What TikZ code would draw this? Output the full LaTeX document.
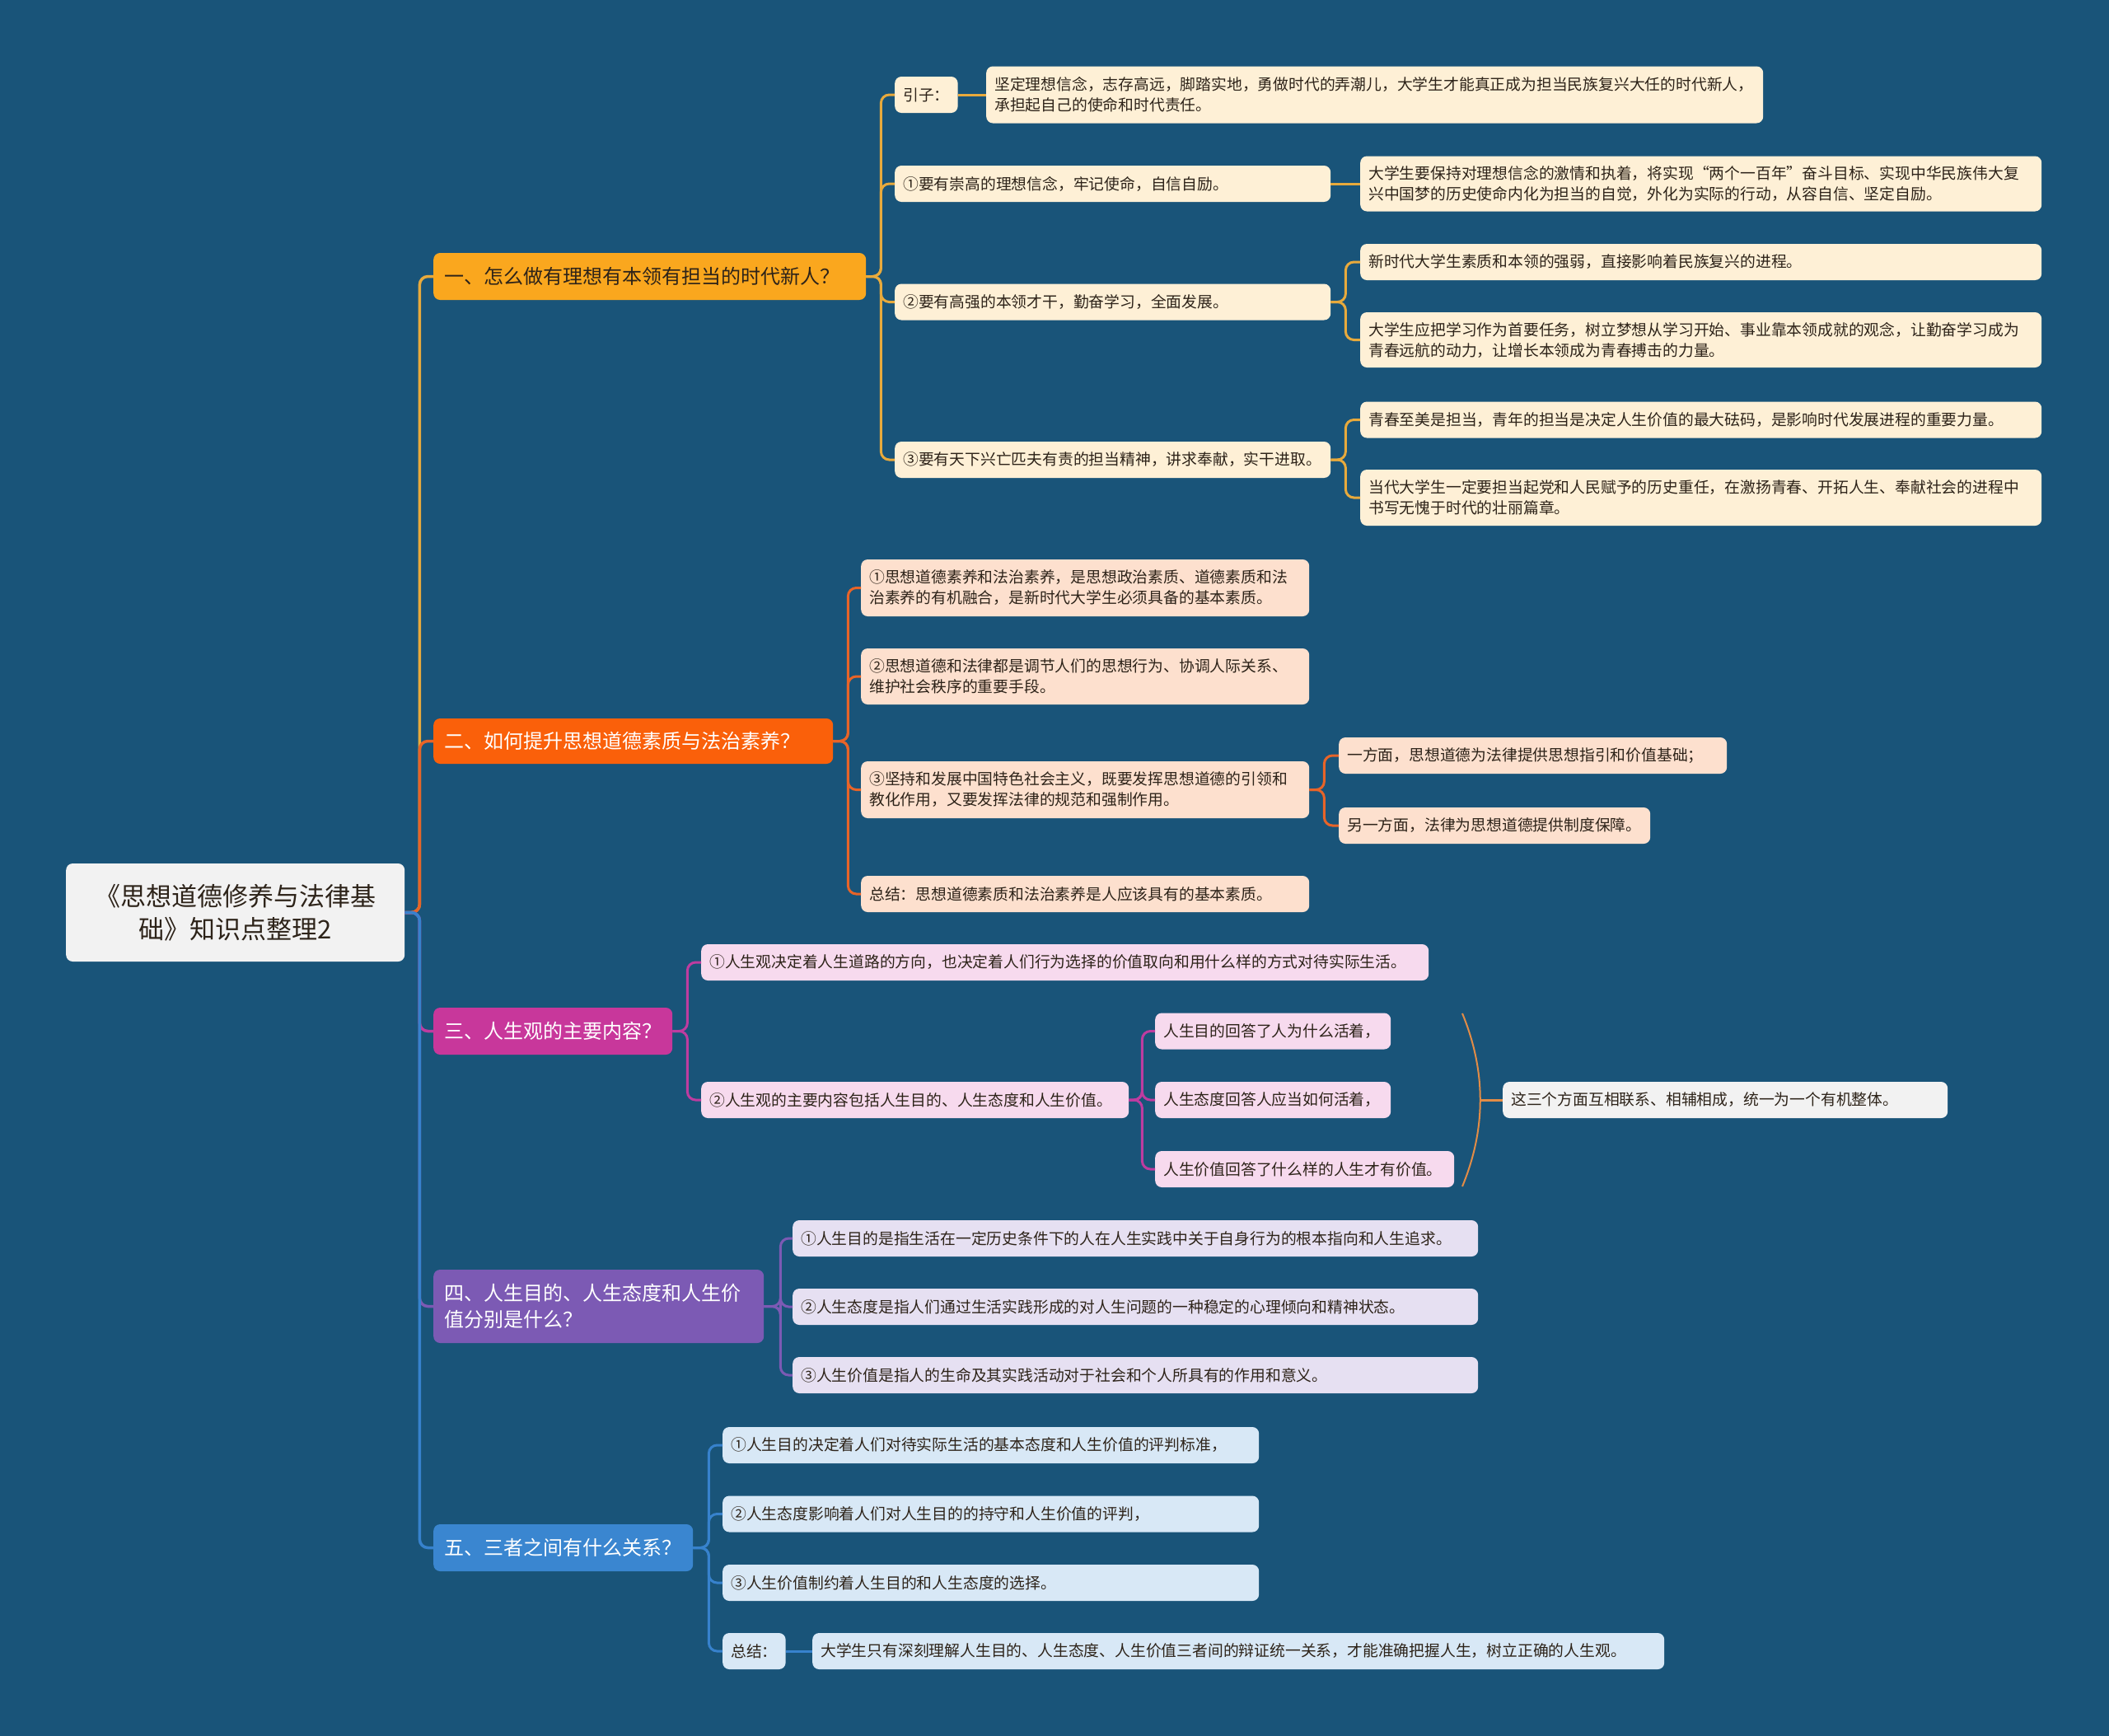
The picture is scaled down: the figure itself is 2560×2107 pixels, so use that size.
\documentclass[tikz,border=0pt]{standalone}
\usepackage{fontspec}
\setmainfont{Noto Sans CJK SC}
\usetikzlibrary{positioning}
\definecolor{bgblue}{RGB}{25,84,121}
\definecolor{hdA}{RGB}{250,167,30}
\definecolor{hdB}{RGB}{250,96,10}
\definecolor{hdC}{RGB}{200,55,155}
\definecolor{hdD}{RGB}{124,90,180}
\definecolor{hdE}{RGB}{58,134,208}
\definecolor{lnA}{RGB}{232,170,60}
\definecolor{lnB}{RGB}{232,100,40}
\definecolor{lnC}{RGB}{190,60,160}
\definecolor{lnD}{RGB}{124,90,180}
\definecolor{lnE}{RGB}{55,130,205}
\definecolor{lfA}{RGB}{254,240,214}
\definecolor{lfB}{RGB}{253,224,206}
\definecolor{lfC}{RGB}{247,218,238}
\definecolor{lfD}{RGB}{230,224,242}
\definecolor{lfE}{RGB}{216,232,246}
\definecolor{grey}{RGB}{242,242,242}
\definecolor{txtd}{RGB}{45,35,25}
\definecolor{brk}{RGB}{226,140,70}
\newcommand\leaffont{\fontsize{18.8}{25}\selectfont}
\newcommand\headfont{\fontsize{24}{32}\selectfont}
\tikzset{
  bloc/.style={anchor=west,rounded corners=8pt,inner xsep=10pt,inner ysep=2pt,align=left,
    minimum height=44pt,font=\leaffont,text=txtd},
  la/.style={bloc,fill=lfA},
  lb/.style={bloc,fill=lfB},
  lc/.style={bloc,fill=lfC},
  ld/.style={bloc,fill=lfD},
  le/.style={bloc,fill=lfE},
  lg/.style={bloc,fill=grey},
  hd/.style={anchor=west,rounded corners=8pt,inner xsep=13pt,inner ysep=2pt,align=left,
    minimum height=57pt,font=\headfont,text=white},
  fl/.style={line width=3pt,rounded corners=10pt},
}
\begin{document}
\begin{tikzpicture}[x=1pt,y=-1pt]
  \fill[bgblue] (0,0) rectangle (2560,2107);
  \node[anchor=west,fill=grey,rounded corners=8pt,minimum width=411pt,minimum height=119pt,
    align=center,text=txtd,font=\fontsize{31}{40}\selectfont] (root) at (80,1107.5)
    {《思想道德修养与法律基\\础》知识点整理2};
  \node[hd,fill=hdA,text=txtd,text width=499pt] (b1) at (526,335.5) {一、怎么做有理想有本领有担当的时代新人？};
  \node[hd,fill=hdB,text width=459pt,minimum height=55pt] (b2) at (526,899.5) {二、如何提升思想道德素质与法治素养？};
  \node[hd,fill=hdC,text width=264pt] (b3) at (526,1251.5) {三、人生观的主要内容？};
  \node[hd,fill=hdD,text width=375pt,minimum height=89pt] (b4) at (526,1585.5) {四、人生目的、人生态度和人生价\\值分别是什么？};
  \node[hd,fill=hdE,text width=289pt] (b5) at (526,1878.5) {五、三者之间有什么关系？};
  % 一
  \node[la] (yz) at (1086,115) {引子：};
  \node[la,text width=923pt,minimum height=69pt] (yzt) at (1197,115) {坚定理想信念，志存高远，脚踏实地，勇做时代的弄潮儿，大学生才能真正成为担当民族复兴大任的时代新人，\\承担起自己的使命和时代责任。};
  \node[la,text width=509pt] (a1) at (1086,223) {①要有崇高的理想信念，牢记使命，自信自励。};
  \node[la,text width=807pt,minimum height=67pt] (a1t) at (1651,223) {大学生要保持对理想信念的激情和执着，将实现“两个一百年”奋斗目标、实现中华民族伟大复\\兴中国梦的历史使命内化为担当的自觉，外化为实际的行动，从容自信、坚定自励。};
  \node[la,text width=509pt] (a2) at (1086,366.5) {②要有高强的本领才干，勤奋学习，全面发展。};
  \node[la,text width=807pt] (a2a) at (1651,318) {新时代大学生素质和本领的强弱，直接影响着民族复兴的进程。};
  \node[la,text width=807pt,minimum height=67pt] (a2b) at (1651,412.5) {大学生应把学习作为首要任务，树立梦想从学习开始、事业靠本领成就的观念，让勤奋学习成为\\青春远航的动力，让增长本领成为青春搏击的力量。};
  \node[la,text width=509pt] (a3) at (1086,558) {③要有天下兴亡匹夫有责的担当精神，讲求奉献，实干进取。};
  \node[la,text width=807pt] (a3a) at (1651,509.5) {青春至美是担当，青年的担当是决定人生价值的最大砝码，是影响时代发展进程的重要力量。};
  \node[la,text width=807pt,minimum height=68pt] (a3b) at (1651,604) {当代大学生一定要担当起党和人民赋予的历史重任，在激扬青春、开拓人生、奉献社会的进程中\\书写无愧于时代的壮丽篇章。};
  % 二
  \node[lb,text width=524pt,minimum height=69pt] (p1) at (1045,713.5) {①思想道德素养和法治素养，是思想政治素质、道德素质和法\\治素养的有机融合，是新时代大学生必须具备的基本素质。};
  \node[lb,text width=524pt,minimum height=68pt] (p2) at (1045,821) {②思想道德和法律都是调节人们的思想行为、协调人际关系、\\维护社会秩序的重要手段。};
  \node[lb,text width=524pt,minimum height=69pt] (p3) at (1045,958.5) {③坚持和发展中国特色社会主义，既要发挥思想道德的引领和\\教化作用，又要发挥法律的规范和强制作用。};
  \node[lb,text width=451pt] (p3a) at (1625,917) {一方面，思想道德为法律提供思想指引和价值基础；};
  \node[lb,text width=358pt] (p3b) at (1625,1002) {另一方面，法律为思想道德提供制度保障。};
  \node[lb,text width=524pt] (p4) at (1045,1085) {总结：思想道德素质和法治素养是人应该具有的基本素质。};
  % 三
  \node[lc,text width=863pt] (q1) at (851,1168) {①人生观决定着人生道路的方向，也决定着人们行为选择的价值取向和用什么样的方式对待实际生活。};
  \node[lc,text width=499pt] (q2) at (851,1335) {②人生观的主要内容包括人生目的、人生态度和人生价值。};
  \node[lc,text width=266pt] (q2a) at (1402,1251.5) {人生目的回答了人为什么活着，};
  \node[lc,text width=266pt] (q2b) at (1402,1335) {人生态度回答人应当如何活着，};
  \node[lc,text width=343pt] (q2c) at (1402,1419) {人生价值回答了什么样的人生才有价值。};
  \node[lg,text width=520pt] (sum) at (1824,1335) {这三个方面互相联系、相辅相成，统一为一个有机整体。};
  \coordinate (bt) at (1775,1230);
  \coordinate (bb) at (1775,1440);
  \coordinate (bm) at (1797,1335);
  % 四
  \node[ld,text width=812pt] (r1) at (962,1503) {①人生目的是指生活在一定历史条件下的人在人生实践中关于自身行为的根本指向和人生追求。};
  \node[ld,text width=812pt] (r2) at (962,1586) {②人生态度是指人们通过生活实践形成的对人生问题的一种稳定的心理倾向和精神状态。};
  \node[ld,text width=812pt] (r3) at (962,1669) {③人生价值是指人的生命及其实践活动对于社会和个人所具有的作用和意义。};
  % 五
  \node[le,text width=631pt] (s1) at (877,1754) {①人生目的决定着人们对待实际生活的基本态度和人生价值的评判标准，};
  \node[le,text width=631pt] (s2) at (877,1837.5) {②人生态度影响着人们对人生目的的持守和人生价值的评判，};
  \node[le,text width=631pt] (s3) at (877,1921) {③人生价值制约着人生目的和人生态度的选择。};
  \node[le] (s4) at (877,2004) {总结：};
  \node[le,text width=1014pt] (s4t) at (986,2004) {大学生只有深刻理解人生目的、人生态度、人生价值三者间的辩证统一关系，才能准确把握人生，树立正确的人生观。};
  % connectors
  \draw[fl,lnA,line width=3.5pt] (root.east) -- ++(18,0) |- (b1.west);
  \draw[fl,lnB,line width=3.5pt] (root.east) -- ++(18,0) |- (b2.west);
  \draw[fl,lnC,line width=3.5pt] (root.east) -- ++(18,0) |- (b3.west);
  \draw[fl,lnD,line width=3.5pt] (root.east) -- ++(18,0) |- (b4.west);
  \draw[fl,lnE,line width=3.5pt] (root.east) -- ++(18,0) |- (b5.west);
  \foreach \c in {yz,a1,a2,a3} \draw[fl,lnA] (b1.east) -- ++(18,0) |- (\c.west);
  \draw[fl,lnA] (yz.east) -- (yzt.west);
  \draw[fl,lnA] (a1.east) -- (a1t.west);
  \foreach \c in {a2a,a2b} \draw[fl,lnA] (a2.east) -- ++(18,0) |- (\c.west);
  \foreach \c in {a3a,a3b} \draw[fl,lnA] (a3.east) -- ++(18,0) |- (\c.west);
  \foreach \c in {p1,p2,p3,p4} \draw[fl,lnB] (b2.east) -- ++(18,0) |- (\c.west);
  \foreach \c in {p3a,p3b} \draw[fl,lnB] (p3.east) -- ++(18,0) |- (\c.west);
  \foreach \c in {q1,q2} \draw[fl,lnC] (b3.east) -- ++(18,0) |- (\c.west);
  \foreach \c in {q2a,q2b,q2c} \draw[fl,lnC] (q2.east) -- ++(16,0) |- (\c.west);
  \draw[brk,line width=2pt] (bt) .. controls (1804,1300) and (1804,1370) .. (bb);
  \draw[brk,line width=3pt] (bm) -- (sum.west);
  \foreach \c in {r1,r2,r3} \draw[fl,lnD] (b4.east) -- ++(20,0) |- (\c.west);
  \foreach \c in {s1,s2,s3,s4} \draw[fl,lnE] (b5.east) -- ++(19,0) |- (\c.west);
  \draw[fl,lnE] (s4.east) -- (s4t.west);
\end{tikzpicture}
\end{document}
